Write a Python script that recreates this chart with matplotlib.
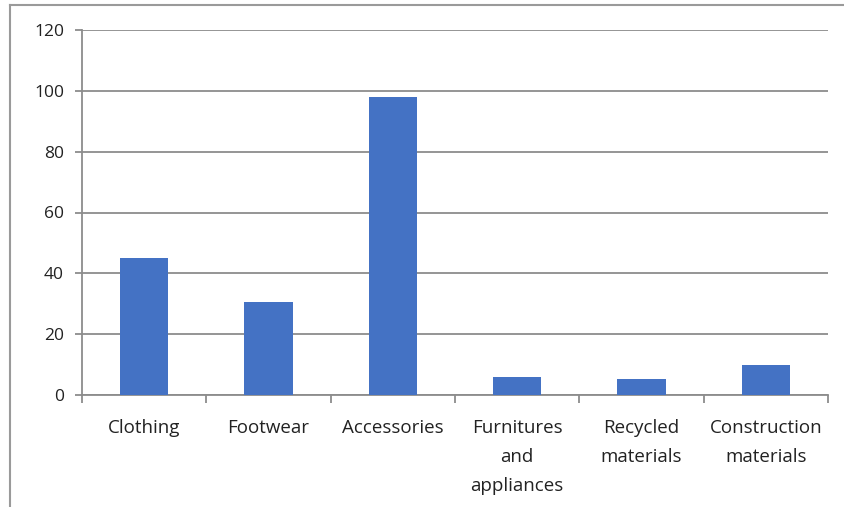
import matplotlib
matplotlib.use("Agg")
import matplotlib.pyplot as plt
from matplotlib.lines import Line2D
import numpy as np

categories = ["Clothing", "Footwear", "Accessories",
              "Furnitures\nand\nappliances", "Recycled\nmaterials",
              "Construction\nmaterials"]
values = [45, 30.7, 98, 5.8, 5.2, 9.9]
y_ticks = [0, 20, 40, 60, 80, 100, 120]

W, H = 844, 507
fig = plt.figure(figsize=(W / 100, H / 100), dpi=100)
plt.rcParams['font.family'] = ['Open Sans', 'DejaVu Sans']

left, right, top, bottom = 82, 828, 30, 395
ax = fig.add_axes([left / W, (H - bottom) / H, (right - left) / W, (bottom - top) / H])

grid_col = "#8c8c8c"
x = np.arange(len(categories))
ax.bar(x, values, width=0.39, color="#4472C4", zorder=3)

ax.set_xlim(-0.5, len(categories) - 0.5)
ax.set_ylim(0, 120)
ax.set_yticks(y_ticks)
ax.set_yticklabels([str(v) for v in y_ticks], fontsize=12.5, color="#222222")
ax.yaxis.grid(True, color=grid_col, linewidth=1.3, zorder=0)

# category labels centred under each bar, ticks on the boundaries
ax.set_xticks(x)
ax.set_xticklabels(categories, fontsize=13.5, color="#222222", linespacing=1.8,
                   va="top")
ax.tick_params(axis="x", which="major", length=0, pad=17)
ax.set_xticks(np.arange(len(categories) + 1) - 0.5, minor=True)
ax.tick_params(axis="x", which="minor", length=6, color=grid_col, width=1.3)
ax.tick_params(axis="y", length=5, color=grid_col, width=1.3, pad=8)

for s in ["top", "right"]:
    ax.spines[s].set_visible(False)
for s in ["left", "bottom"]:
    ax.spines[s].set_color(grid_col)
    ax.spines[s].set_linewidth(1.3)

# chart frame
fig.add_artist(Line2D([10 / W, 10 / W], [0, 1 - 4.5 / H], transform=fig.transFigure,
                      color="#9a9a9a", linewidth=1.5))
fig.add_artist(Line2D([10 / W, 1], [1 - 4.5 / H, 1 - 4.5 / H], transform=fig.transFigure,
                      color="#9a9a9a", linewidth=1.5))

fig.savefig("out.png", dpi=100, facecolor="white")
